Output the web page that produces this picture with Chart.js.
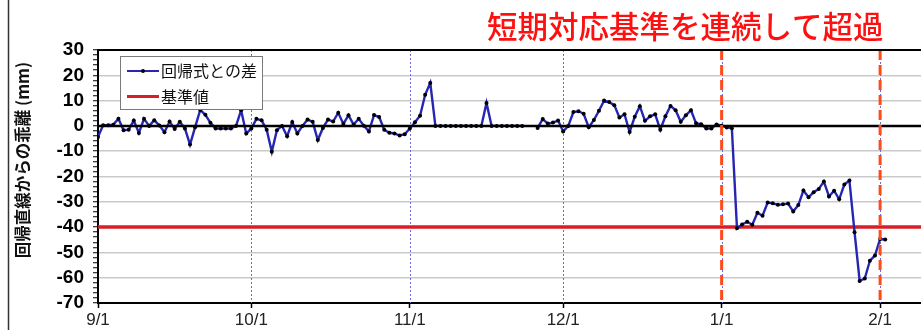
<!DOCTYPE html>
<html>
<head>
<meta charset="utf-8">
<script src="https://cdn.jsdelivr.net/npm/chart.js@4/dist/chart.umd.min.js"></script>
<style>
  html, body { margin: 0; padding: 0; background: #fff; }
  #wrap { position: relative; width: 921px; height: 330px; }
</style>
</head>
<body>
<div id="wrap"><canvas id="c" width="921" height="330"></canvas></div>
<script>
// Daily deviation from the regression line (mm); index = days since 9/1
const diffValues = [
  -4.4, 0.3, 0.3, 0.5, 2.8, -1.7, -1.5, 2.1, -2.8, 2.8,
   0.0, 2.2, 0.2, -2.5, 1.7, -1.2, 1.6, -1.0, -7.4, -0.5,
   6.3, 4.4, 1.2, -1.0, -1.0, -1.0, -1.0, 0.0, 6.2, -3.0,
  -1.0, 2.8, 2.2, -1.5, -10.2, -1.7, 0.0, -4.1, 1.5, -3.0,
   0.0, 2.5, 1.6, -5.6, -0.8, 2.5, 1.7, 5.2, 0.8, 4.2,
   0.5, 2.8, 0.1, -2.2, 4.3, 3.5, -1.5, -2.7, -3.0, -3.8,
  -3.3, -1.0, 1.4, 4.0, 12.3, 17.0, 0.0, 0.0, 0.0, 0.0,
   0.0, 0.0, 0.0, 0.0, 0.0, 0.0, 9.1, 0.0, 0.0, 0.0,
   0.0, 0.0, 0.0, 0.0, null, null, -0.8, 2.7, 0.9, 1.3,
   2.1, -2.2, 0.0, 5.5, 5.8, 4.8, -0.5, 2.3, 6.0, 10.0,
   9.4, 8.2, 3.3, 4.6, -2.4, 3.6, 7.8, 2.0, 3.8, 4.6,
  -1.5, 3.8, 7.9, 6.2, 1.6, 4.2, 6.2, 1.0, 0.7, -1.0,
  -1.0, 0.6, 0.1, -0.6, -0.9, -40.5, -39.0, -37.9, -39.1, -34.3,
  -35.5, -30.3, -30.6, -31.2, -31.0, -30.7, -33.8, -31.3, -25.5, -28.2,
  -26.2, -24.9, -22.0, -27.9, -25.6, -29.0, -23.2, -21.6, -42.0, -61.3,
  -60.3, -53.3, -51.2, -44.7, -44.9
];

// Month-start positions (days since 9/1) and their tick labels
const monthTickDays   = [0, 30, 61, 91, 122, 153];
const monthTickLabels = ['9/1', '10/1', '11/1', '12/1', '1/1', '2/1'];

// Days from which the short-term criterion was exceeded (1/1 and 2/1)
const alertDays = [122, 153];

const baselineValue = -40;   // 基準値
const zeroValue = 0;
const xRange = [0, 161];
const yRange = [-70, 30];
const yStep = 2;
const yLabelStep = 10;

const seriesLabel   = '回帰式との差';
const baselineLabel = '基準値';
const yAxisTitle    = '回帰直線からの乖離 (mm)';
const headline      = '短期対応基準を連続して超過';

const BLUE = '#2626b2';
const RED = '#d81e28';
const ALERT = '#ff4a1c';

const CJK = '"Noto Sans CJK JP", "Noto Sans", sans-serif';
const LAT = '"Liberation Sans", Arial, sans-serif';

const decor = {
  id: 'decor',
  beforeDraw(chart) {
    const c = chart.ctx;
    c.save();
    c.fillStyle = '#fff';
    c.fillRect(0, 0, chart.width, chart.height);
    c.restore();
  },
  beforeDatasetsDraw(chart) {
    const { ctx, chartArea: a, scales: { x } } = chart;
    ctx.save();
    ctx.strokeStyle = '#6c6cd8';
    ctx.lineWidth = 1;
    ctx.setLineDash([2, 2]);
    monthTickDays.slice(1).forEach(d => {
      const px = Math.round(x.getPixelForValue(d)) + 0.5;
      ctx.beginPath(); ctx.moveTo(px, a.top); ctx.lineTo(px, a.bottom); ctx.stroke();
    });
    ctx.restore();
  },
  afterDatasetsDraw(chart) {
    const { ctx, chartArea: a, scales: { x } } = chart;
    ctx.save();

    // dashed markers at the exceedance dates
    ctx.strokeStyle = ALERT;
    ctx.lineWidth = 3;
    ctx.setLineDash([10, 5]);
    alertDays.forEach(d => {
      const px = x.getPixelForValue(d);
      ctx.beginPath(); ctx.moveTo(px, a.top); ctx.lineTo(px, a.bottom); ctx.stroke();
    });
    ctx.setLineDash([]);

    // plot frame top edge
    ctx.strokeStyle = '#000';
    ctx.lineWidth = 2;
    ctx.beginPath(); ctx.moveTo(a.left, a.top); ctx.lineTo(a.right, a.top); ctx.stroke();

    // outer frame left edge
    ctx.strokeStyle = '#333';
    ctx.lineWidth = 1.5;
    ctx.beginPath(); ctx.moveTo(8.5, 0); ctx.lineTo(8.5, chart.height); ctx.stroke();

    // legend box
    const lx = 120.5, ly = 56.5, lw = 142, lh = 53;
    ctx.fillStyle = '#fff';
    ctx.fillRect(lx, ly, lw, lh);
    ctx.strokeStyle = '#7a7a7a';
    ctx.lineWidth = 1;
    ctx.strokeRect(lx, ly, lw, lh);

    const rows = [
      { label: seriesLabel, color: BLUE, width: 2, marker: true, y: 71 },
      { label: baselineLabel, color: RED, width: 3, marker: false, y: 96.5 }
    ];
    rows.forEach(r => {
      ctx.strokeStyle = r.color;
      ctx.lineWidth = r.width;
      ctx.beginPath(); ctx.moveTo(127, r.y); ctx.lineTo(159, r.y); ctx.stroke();
      if (r.marker) {
        ctx.fillStyle = '#000';
        ctx.beginPath(); ctx.arc(143, r.y, 2, 0, Math.PI * 2); ctx.fill();
      }
      ctx.fillStyle = '#111';
      ctx.font = '16px ' + CJK;
      ctx.textAlign = 'left';
      ctx.textBaseline = 'middle';
      ctx.fillText(r.label, 161, r.y);
    });

    // headline
    ctx.fillStyle = '#ff1010';
    ctx.font = '500 30.5px ' + CJK;
    ctx.textAlign = 'left';
    ctx.textBaseline = 'middle';
    ctx.fillText(headline, 487, 26);

    // y axis title
    ctx.save();
    ctx.translate(22.5, 160);
    ctx.rotate(-Math.PI / 2);
    ctx.fillStyle = '#111';
    ctx.font = 'bold 16.5px ' + CJK;
    ctx.textAlign = 'center';
    ctx.textBaseline = 'middle';
    ctx.fillText(yAxisTitle, 0, 0);
    ctx.restore();

    ctx.restore();
  }
};

const points = diffValues.map((v, i) => ({ x: i, y: v }));

new Chart(document.getElementById('c'), {
  type: 'line',
  data: {
    datasets: [
      {
        label: 'zero',
        data: [{ x: xRange[0], y: zeroValue }, { x: xRange[1], y: zeroValue }],
        borderColor: '#000',
        borderWidth: 2.5,
        pointRadius: 0,
        order: 0
      },
      {
        label: seriesLabel,
        data: points,
        borderColor: BLUE,
        borderWidth: 2.4,
        pointRadius: 2,
        pointBackgroundColor: '#000',
        pointBorderColor: '#000',
        pointBorderWidth: 0,
        spanGaps: false,
        tension: 0,
        order: 1
      },
      {
        label: baselineLabel,
        data: [{ x: xRange[0], y: baselineValue }, { x: xRange[1], y: baselineValue }],
        borderColor: RED,
        borderWidth: 3.5,
        pointRadius: 0,
        order: 2
      }
    ]
  },
  options: {
    responsive: false,
    animation: false,
    devicePixelRatio: 1,
    layout: { autoPadding: false, padding: { top: 50, left: 0, right: 0, bottom: 0 } },
    plugins: { legend: { display: false }, tooltip: { enabled: false } },
    scales: {
      x: {
        type: 'linear',
        min: xRange[0],
        max: xRange[1],
        afterBuildTicks: s => { s.ticks = monthTickDays.map(v => ({ value: v })); },
        afterFit: s => { s.height = 27; s.paddingLeft = 0; s.paddingRight = 0; },
        ticks: {
          autoSkip: false,
          maxRotation: 0,
          padding: 2,
          color: '#222',
          font: { family: LAT, size: 17 },
          callback: v => monthTickLabels[monthTickDays.indexOf(v)] ?? ''
        },
        grid: { drawOnChartArea: false, tickLength: 5, tickColor: '#000', tickWidth: 1.5 },
        border: { color: '#000', width: 2 }
      },
      y: {
        min: yRange[0],
        max: yRange[1],
        afterFit: s => { s.width = 98; s.paddingTop = 0; s.paddingBottom = 0; },
        ticks: {
          stepSize: yStep,
          autoSkip: false,
          maxTicksLimit: 100,
          padding: 9,
          color: '#000',
          font: { family: LAT, size: 19, weight: 'bold' },
          callback: v => (v % yLabelStep === 0 ? String(v) : '')
        },
        grid: {
          color: c => {
            const v = c.tick.value;
            return (v % yLabelStep === 0 && v !== zeroValue && v !== yRange[0] && v !== yRange[1]) ? '#c9c9c9' : 'rgba(0,0,0,0)';
          },
          lineWidth: 1.5,
          tickLength: 5,
          tickColor: '#000',
          tickWidth: 1
        },
        border: { color: '#000', width: 2 }
      }
    }
  },
  plugins: [decor]
});
</script>
</body>
</html>
